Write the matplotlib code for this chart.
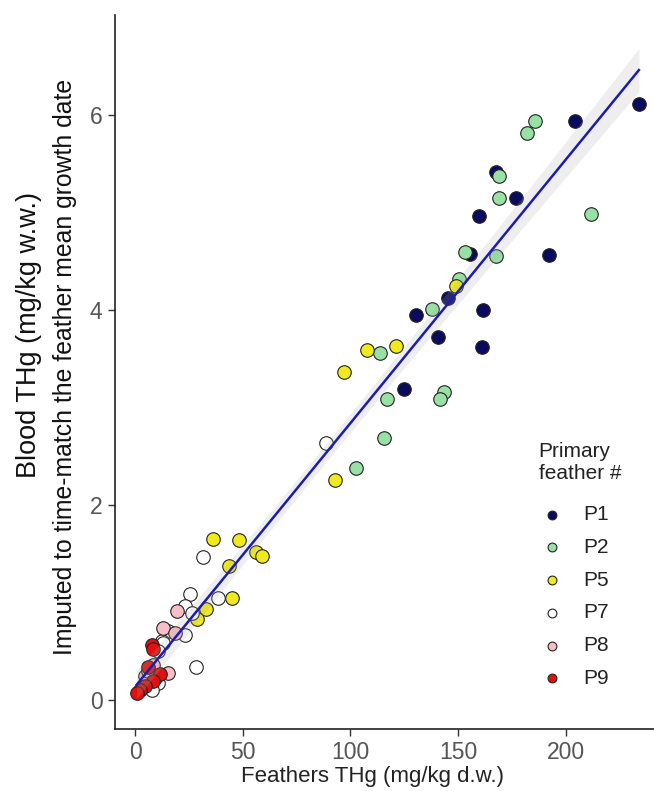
import numpy as np
import matplotlib
matplotlib.use('Agg')
import matplotlib.pyplot as plt

plt.rcParams['font.family'] = ['Liberation Sans', 'DejaVu Sans']

# ------------------------------------------------------------------ data
groups = ['P1', 'P2', 'P5', 'P7', 'P8', 'P9']

p1_x = [234.0, 204.5, 167.5, 177.1, 159.8, 155.5, 192.1, 145.4, 130.7, 161.6, 140.7, 160.9, 125.0]
p1_y = [6.12, 5.94, 5.42, 5.15, 4.97, 4.58, 4.57, 4.12, 3.95, 4.00, 3.72, 3.62, 3.19]

p2_x = [185.6, 182.2, 169.1, 169.1, 211.9, 153.1, 167.4, 150.3, 138.1, 113.7, 116.8, 143.5, 141.5, 115.5, 102.4]
p2_y = [5.94, 5.82, 5.38, 5.15, 4.99, 4.60, 4.56, 4.32, 4.01, 3.56, 3.09, 3.16, 3.09, 2.69, 2.38]

p5_x = [149.0, 107.5, 121.0, 97.1, 92.8, 36.3, 48.4, 56.1, 59.2, 43.8, 44.9, 32.9, 28.9]
p5_y = [4.25, 3.59, 3.63, 3.37, 2.26, 1.65, 1.64, 1.52, 1.48, 1.37, 1.04, 0.93, 0.83]

p7_x = [88.5, 31.7, 25.5, 38.4, 23.2, 26.5, 23.2, 15.2, 12.4, 13.1, 10.8, 28.3, 10.8, 7.7, 9.5]
p7_y = [2.64, 1.47, 1.09, 1.04, 0.96, 0.89, 0.66, 0.71, 0.60, 0.58, 0.50, 0.34, 0.17, 0.10, 0.22]

p8_x = [19.6, 12.9, 18.6, 8.5, 15.5, 4.6, 6.0]
p8_y = [0.91, 0.74, 0.69, 0.36, 0.27, 0.24, 0.30]

p9_x = [7.7, 8.2, 6.2, 11.6, 8.5, 4.6, 2.3, 0.8]
p9_y = [0.56, 0.52, 0.34, 0.26, 0.19, 0.14, 0.10, 0.07]

colors = ['#0b0b5e', '#98e0a4', '#f0ea1c', '#ffffff', '#f7bec8', '#e01010']

xs = [p1_x, p2_x, p5_x, p7_x, p8_x, p9_x]
ys = [p1_y, p2_y, p5_y, p7_y, p8_y, p9_y]

# ------------------------------------------------------------------ figure
fig = plt.figure(figsize=(6.54, 7.91), dpi=100)
ax = fig.add_axes([0.1758, 0.0784, 0.8242, 0.9026])

for gx, gy, col, lab in zip(xs, ys, colors, groups):
    ax.scatter(gx, gy, s=95, color=col, edgecolor='#222222', linewidth=0.8,
               label=lab, zorder=2)

# linear fit with 95% confidence band (like geom_smooth(method = 'lm'))
all_x = np.concatenate([np.array(v, float) for v in xs])
all_y = np.concatenate([np.array(v, float) for v in ys])
slope, icpt = np.polyfit(all_x, all_y, 1)
n = len(all_x)
resid = all_y - (icpt + slope * all_x)
s = np.sqrt(np.sum(resid ** 2) / (n - 2))
xbar = all_x.mean()
sxx = np.sum((all_x - xbar) ** 2)
xg = np.linspace(all_x.min(), all_x.max(), 100)
yg = icpt + slope * xg
se = s * np.sqrt(1.0 / n + (xg - xbar) ** 2 / sxx)
ax.fill_between(xg, yg - 1.99 * se, yg + 1.99 * se, color='#aaaaaa', alpha=0.2,
                linewidth=0, zorder=3)
ax.plot(xg, yg, color='#1c1cb0', linewidth=1.8, zorder=4)

ax.set_xlim(-9.3, 241)
ax.set_ylim(-0.30, 7.03)
ax.set_xticks([0, 50, 100, 150, 200])
ax.set_yticks([0, 2, 4, 6])

for side in ['top', 'right']:
    ax.spines[side].set_visible(False)
for side in ['left', 'bottom']:
    ax.spines[side].set_color('#222222')
    ax.spines[side].set_linewidth(1.2)

ax.tick_params(axis='both', colors='#333333', labelcolor='#555555',
               labelsize=16.5, length=5, width=1.0, pad=4)

ax.set_xlabel('Feathers THg (mg/kg d.w.)', fontsize=16, color='#222222')
ax.xaxis.set_label_coords(0.478, -0.052)

# two-line y title
fig.text(0.045, 0.576, 'Blood THg (mg/kg w.w.)', rotation=90, fontsize=19.5,
         ha='center', va='center', color='#111111')
fig.text(0.099, 0.536, 'Imputed to time-match the feather mean growth date',
         rotation=90, fontsize=17.8, ha='center', va='center', color='#111111')

leg = ax.legend(title='Primary\nfeather #', loc='upper left',
                bbox_to_anchor=(0.795, 0.465), bbox_transform=fig.transFigure,
                frameon=False, fontsize=15, title_fontsize=15,
                markerscale=0.65, labelspacing=0.66, handlelength=1.25,
                handletextpad=0.9, alignment='left')
leg._legend_box.sep = 16
for t in leg.get_texts():
    t.set_color('#222222')
leg.get_title().set_color('#222222')

fig.savefig('out.png', dpi=100)
